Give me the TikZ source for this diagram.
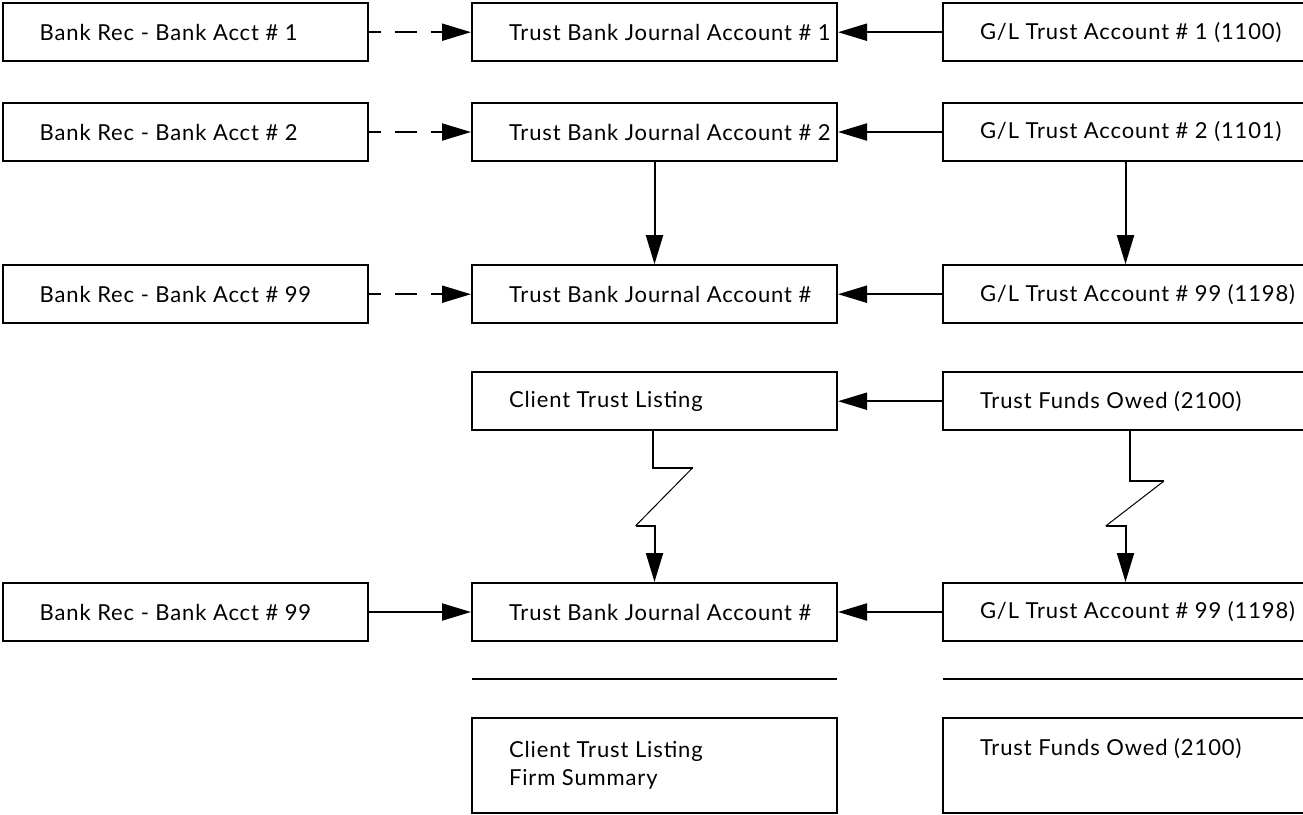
\documentclass[tikz,border=0pt]{standalone}
\usepackage{fontspec}
\setmainfont{Lato}[LetterSpace=4]
\usetikzlibrary{arrows.meta,calc}
\newcommand{\tx}[1]{\makebox[365pt][l]{\hspace*{37pt}#1}}
\begin{document}
\begin{tikzpicture}[x=1pt,y=-1pt,
  box/.style={draw,line width=2pt,minimum width=365pt,minimum height=58pt,inner sep=0pt,
    font=\fontsize{22}{28.7}\selectfont},
  tall/.style={box,minimum height=94.7pt},
  conn/.style={line width=2pt,-{Triangle[length=29pt,width=17pt]}},
  dconn/.style={conn,dash pattern=on 22pt off 14pt,dash phase=10pt},
  plain/.style={line width=2pt},
  zig/.style={line width=1pt}]
\useasboundingbox (0,0) rectangle (1303,814);
\clip (0,0) rectangle (1303,814);
% row 1
\node[box] (b1) at (185.2,32.2) {\tx{Bank Rec - Bank Acct \# 1}};
\node[box] (t1) at (654.5,32.2) {\tx{Trust Bank Journal Account \# 1}};
\node[box] (g1) at (1125.5,32.2) {\tx{G/L Trust Account \# 1 (1100)}};
% row 2
\node[box] (b2) at (185.2,132) {\tx{Bank Rec - Bank Acct \# 2}};
\node[box] (t2) at (654.5,132) {\tx{Trust Bank Journal Account \# 2}};
\node[box] (g2) at (1125.5,132) {\tx{G/L Trust Account \# 2 (1101)}};
% row 3
\node[box] (b3) at (185.2,294.2) {\tx{Bank Rec - Bank Acct \# 99}};
\node[box] (t3) at (654.5,294.2) {\tx{Trust Bank Journal Account \#}};
\node[box] (g3) at (1125.5,294.2) {\tx{G/L Trust Account \# 99 (1198)}};
% row 4
\node[box] (ctl) at (654.5,401.2) {\tx{Client Trust Listing}};
\node[box] (tfo) at (1125.5,401.2) {\tx{Trust Funds Owed (2100)}};
% row 5
\node[box] (b5) at (185.2,612) {\tx{Bank Rec - Bank Acct \# 99}};
\node[box] (t5) at (654.5,612) {\tx{Trust Bank Journal Account \#}};
\node[box] (g5) at (1125.5,612) {\tx{G/L Trust Account \# 99 (1198)}};
% bottom
\node[tall] (cs) at (654.5,765.3) {\tx{\parbox{320pt}{\raggedright Client Trust Listing\\Firm Summary}}};
\node[tall] (ts) at (1125.5,765.3) {\tx{\parbox{320pt}{\raggedright Trust Funds Owed (2100)\\\strut}}};
% separator lines
\draw[plain] (472,679) -- (837,679);
\draw[plain] (943,679) -- (1308,679);
% horizontal connectors
\draw[dconn] (b1) -- (t1);
\draw[dconn] (b2) -- (t2);
\draw[dconn] (b3) -- (t3);
\draw[conn] (b5) -- (t5);
\draw[conn] (g1) -- (t1);
\draw[conn] (g2) -- (t2);
\draw[conn] (g3) -- (t3);
\draw[conn] (tfo) -- (ctl);
\draw[conn] (g5) -- (t5);
% vertical connectors
\draw[conn] (t2) -- (t3);
\draw[conn] (g2) -- (g3);
% zigzag left
\coordinate (la) at (652.7,467.7);
\coordinate (lb) at (692.7,467.7);
\coordinate (lc) at (635.7,525.7);
\coordinate (ld) at (654.5,525.7);
\draw[plain] (ctl.south -| la) -- (la) -- (lb);
\draw[zig] (lb) -- (lc);
\draw[conn] (lc) -- (ld) -- (t5.north);
% zigzag right
\coordinate (ra) at (1130,481);
\coordinate (rb) at (1164,481);
\coordinate (rc) at (1105.7,526);
\coordinate (rd) at (1125.5,526);
\draw[plain] (tfo.south -| ra) -- (ra) -- (rb);
\draw[zig] (rb) -- (rc);
\draw[conn] (rc) -- (rd) -- (g5.north);
\end{tikzpicture}
\end{document}
